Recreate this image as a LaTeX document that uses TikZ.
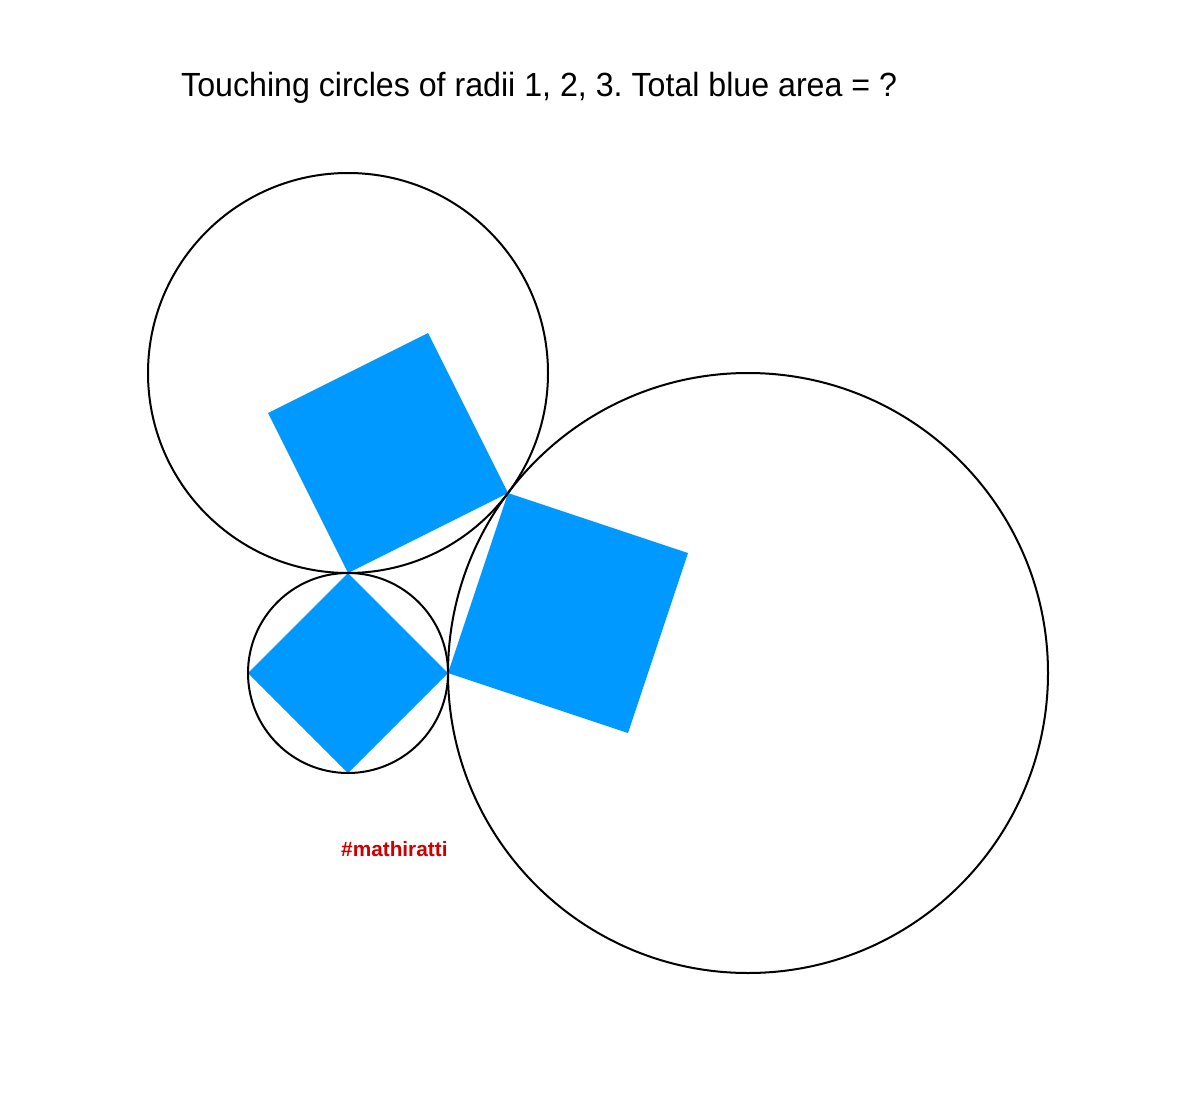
\documentclass[tikz,border=0pt]{standalone}
\usepackage{fontspec}
\setmainfont{Liberation Sans}
\frenchspacing
\definecolor{sqblue}{HTML}{0099FF}
\definecolor{tagred}{HTML}{CC0000}
\begin{document}
\begin{tikzpicture}[x=1pt,y=-1pt,
  circ/.style={draw=black,line width=2pt},
  sq/.style={fill=sqblue,draw=none}]
\useasboundingbox (0,0) rectangle (1200,1108);
% squares
\fill[sq] (348,573) -- (448,673) -- (348,773) -- (248,673) -- cycle;
\fill[sq] (348,573) -- (508,493) -- (428,333) -- (268,413) -- cycle;
\fill[sq] (508,493) -- (448,673) -- (628,733) -- (688,553) -- cycle;
% circles
\node[circ,circle,minimum size=200pt,inner sep=0pt] (c1) at (348,673) {};
\node[circ,circle,minimum size=400pt,inner sep=0pt] (c2) at (348,373) {};
\node[circ,circle,minimum size=600pt,inner sep=0pt] (c3) at (748,673) {};
% texts
\node[anchor=base west,inner sep=0pt,xscale=0.96,font=\fontsize{33.5}{40}\selectfont] (title) at (181,96.5) {Touching circles of radii 1, 2, 3. Total blue area = ?};
\node[anchor=base west,inner sep=0pt,text=tagred,font=\fontsize{20.8}{25}\selectfont\bfseries] (tag) at (341,856) {\#mathiratti};
\end{tikzpicture}
\end{document}
